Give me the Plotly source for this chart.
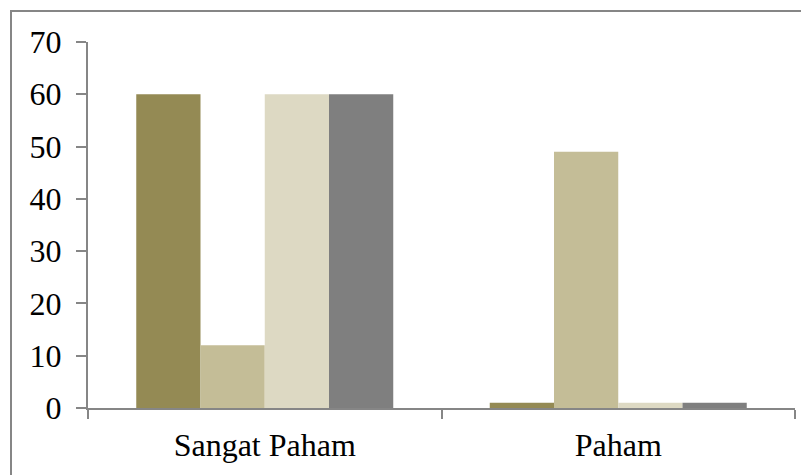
import plotly.graph_objects as go

categories = ["Sangat Paham", "Paham"]
series_a = [60, 1]
series_b = [12, 49]
series_c = [60, 1]
series_d = [60, 1]
series_names = ["Seri 1", "Seri 2", "Seri 3", "Seri 4"]
colors = ["#948A54", "#C4BD97", "#DDD9C3", "#7F7F7F"]
y_ticks = [0, 10, 20, 30, 40, 50, 60, 70]

fig = go.Figure()
for name, vals, col in zip(series_names, [series_a, series_b, series_c, series_d], colors):
    fig.add_trace(go.Bar(x=categories, y=vals, name=name, marker=dict(color=col, line=dict(width=0))))

# page body has an 8px default margin; compensate
off = 8
W, H = 809 - off, 475 - off
ml, mr, mt, mb = 88 - off, 14, 42 - off, 67
pw, ph = W - ml - mr, H - mt - mb

fig.update_layout(
    width=W, height=H,
    margin=dict(l=ml, r=mr, t=mt, b=mb, pad=0, autoexpand=False),
    paper_bgcolor="white", plot_bgcolor="white",
    barmode="group", bargap=0.273, bargroupgap=0,
    showlegend=False,
    font=dict(family="Liberation Serif, Times New Roman, serif", size=32, color="black"),
    xaxis=dict(
        showline=True, linecolor="#868686", linewidth=2,
        ticks="outside", tickcolor="#868686", ticklen=9, tickwidth=2,
        tickson="boundaries", showgrid=False, ticklabelstandoff=8,
    ),
    yaxis=dict(
        range=[0, 70], tickvals=y_ticks, showline=True, linecolor="#868686", linewidth=2,
        ticks="outside", tickcolor="#868686", ticklen=10, tickwidth=2,
        showgrid=False, zeroline=False, ticklabelstandoff=8,
    ),
    shapes=[dict(
        type="rect", xref="paper", yref="paper",
        x0=(11 - off - ml) / pw, x1=(W + 20 - ml) / pw,
        y0=-(H + 20 - mt - ph) / ph, y1=1 + (mt - (11 - off)) / ph,
        line=dict(color="#868686", width=2), fillcolor="rgba(0,0,0,0)", layer="below",
    )],
)

fig.write_html("out.html")
